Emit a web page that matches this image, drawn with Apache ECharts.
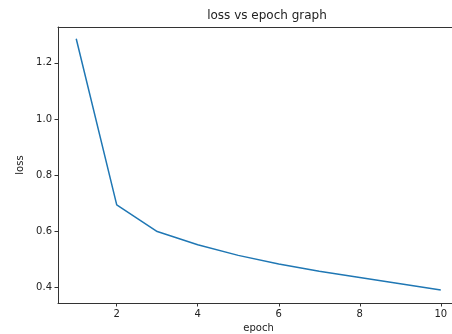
<!DOCTYPE html>
<html>
<head>
<meta charset="utf-8">
<script src="https://cdn.jsdelivr.net/npm/echarts@6/dist/echarts.min.js"></script>
<style>html,body{margin:0;padding:0;background:#fff;}#c{width:452px;height:334px;}</style>
</head>
<body>
<div id="c"></div>
<script>
const epochs = [1, 2, 3, 4, 5, 6, 7, 8, 9, 10];
const loss = [1.286, 0.693, 0.598, 0.551, 0.513, 0.482, 0.456, 0.434, 0.412, 0.389];
const xTicks = [2, 4, 6, 8, 10];
const yTicks = [0.4, 0.6, 0.8, 1.0, 1.2];

const chart = echarts.init(document.getElementById('c'), null, {renderer: 'canvas'});
const font = 'DejaVu Sans';
chart.setOption({
  animation: false,
  backgroundColor: '#fff',
  title: {
    text: 'loss vs epoch graph',
    left: 262, top: 5, textAlign: 'center',
    textStyle: {fontFamily: font, fontSize: 12, fontWeight: 'normal', color: '#222'}
  },
  grid: {left: 58, top: 27, width: 401, height: 276, show: false,
    containLabel: false, outerBoundsMode: 'none'},
  xAxis: [{
    type: 'value', min: 0.55, max: 10.45,
    name: 'epoch', nameLocation: 'middle', nameGap: 20,
    nameTextStyle: {fontFamily: font, fontSize: 10, color: '#222'},
    axisLine: {show: true, onZero: false, lineStyle: {color: '#333', width: 1}},
    axisTick: {show: true, customValues: xTicks, length: 3.5, lineStyle: {color: '#333'}},
    axisLabel: {customValues: xTicks, fontFamily: font, fontSize: 10, color: '#222', margin: 6},
    splitLine: {show: false}
  }, {
    type: 'value', position: 'top', min: 0.55, max: 10.45,
    axisLine: {show: true, onZero: false, lineStyle: {color: '#333', width: 1}},
    axisTick: {show: false}, axisLabel: {show: false}, splitLine: {show: false}
  }],
  yAxis: {
    type: 'value', min: 0.343, max: 1.328,
    name: 'loss', nameLocation: 'middle', nameGap: 33, nameRotate: 90,
    nameTextStyle: {fontFamily: font, fontSize: 10, color: '#222'},
    axisLine: {show: true, onZero: false, lineStyle: {color: '#333', width: 1}},
    axisTick: {show: true, customValues: yTicks, length: 3.5, lineStyle: {color: '#333'}},
    axisLabel: {customValues: yTicks, fontFamily: font, fontSize: 10, color: '#222', margin: 6,
      formatter: v => v.toFixed(1)},
    splitLine: {show: false}
  },
  series: [{
    type: 'line',
    xAxisIndex: 0,
    data: epochs.map((e, i) => [e, loss[i]]),
    showSymbol: false,
    lineStyle: {color: '#1f77b4', width: 1.5},
    itemStyle: {color: '#1f77b4'}
  }]
});
</script>
</body>
</html>
